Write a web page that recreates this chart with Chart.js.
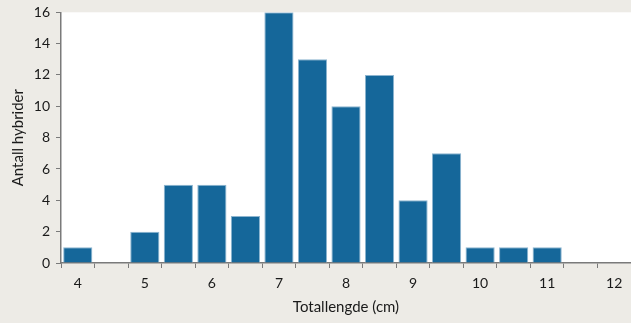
<!DOCTYPE html>
<html lang="no">
<head>
    <meta charset="UTF-8">
    <title>Totallengde hybrider</title>
    <style>
        html, body {
            margin: 0;
            padding: 0;
            background: #edebe6;
        }
        #wrap {
            width: 631px;
            height: 323px;
        }
    </style>
</head>
<body>
<div id="wrap">
    <canvas id="lengthChart" width="631" height="323"></canvas>
</div>

<script src="https://cdn.jsdelivr.net/npm/chart.js"></script>
<script>
    // length classes (cm), half-cm steps
    const lengths = [4, 4.5, 5, 5.5, 6, 6.5, 7, 7.5, 8, 8.5, 9, 9.5, 10, 10.5, 11, 11.5, 12];
    const hybridCounts = [1, 0, 2, 5, 5, 3, 16, 13, 10, 12, 4, 7, 1, 1, 1, 0, 0];
    const yTicks = [0, 2, 4, 6, 8, 10, 12, 14, 16];

    const fontFamily = 'Lato, "Open Sans", sans-serif';
    const textColor = '#1a1a1a';
    const axisColor = '#7a7a7a';

    // paint grey page + white plot area
    const backgroundPlugin = {
        id: 'background',
        beforeDraw(chart) {
            const { ctx, chartArea } = chart;
            ctx.save();
            ctx.fillStyle = '#edebe6';
            ctx.fillRect(0, 0, chart.width, chart.height);
            ctx.fillStyle = '#ffffff';
            ctx.fillRect(chartArea.left, chartArea.top, chart.width - chartArea.left, chartArea.bottom - chartArea.top);
            ctx.restore();
        }
    };

    const ctx = document.getElementById('lengthChart').getContext('2d');
    new Chart(ctx, {
        type: 'bar',
        data: {
            labels: lengths,
            datasets: [{
                label: 'Antall hybrider',
                data: hybridCounts,
                backgroundColor: '#15679a',
                borderColor: '#8db5d0',
                borderWidth: 1,
                barPercentage: 0.87,
                categoryPercentage: 1.0
            }]
        },
        options: {
            responsive: false,
            animation: false,
            layout: {
                padding: { top: 0, right: 0, left: 0, bottom: 0 }
            },
            plugins: {
                legend: { display: false },
                tooltip: { enabled: false }
            },
            scales: {
                x: {
                    grid: {
                        offset: true,
                        drawOnChartArea: false,
                        tickLength: 5,
                        color: axisColor
                    },
                    border: { color: axisColor, width: 1.5 },
                    ticks: {
                        autoSkip: false,
                        maxRotation: 0,
                        padding: 7,
                        color: textColor,
                        font: { family: fontFamily, size: 14 },
                        callback: function (value, index) {
                            const v = lengths[index];
                            return Number.isInteger(v) ? String(v) : '';
                        }
                    },
                    title: {
                        display: true,
                        text: 'Totallengde (cm)',
                        color: textColor,
                        font: { family: fontFamily, size: 15 },
                        padding: { top: 0, bottom: 7 }
                    },
                    afterFit(scale) {
                        scale.height = 60;
                    }
                },
                y: {
                    min: 0,
                    max: 16,
                    afterBuildTicks(scale) {
                        scale.ticks = yTicks.map(v => ({ value: v }));
                    },
                    grid: {
                        drawOnChartArea: false,
                        tickLength: 5,
                        color: axisColor
                    },
                    border: { color: axisColor, width: 1.5 },
                    ticks: {
                        padding: 6,
                        color: textColor,
                        font: { family: fontFamily, size: 14, lineHeight: 0.9 }
                    },
                    title: {
                        display: true,
                        text: 'Antall hybrider',
                        color: textColor,
                        font: { family: fontFamily, size: 15 },
                        padding: { top: 9, bottom: 0 }
                    },
                    afterFit(scale) {
                        scale.width = 61;
                    }
                }
            }
        },
        plugins: [backgroundPlugin]
    });
</script>
</body>
</html>
